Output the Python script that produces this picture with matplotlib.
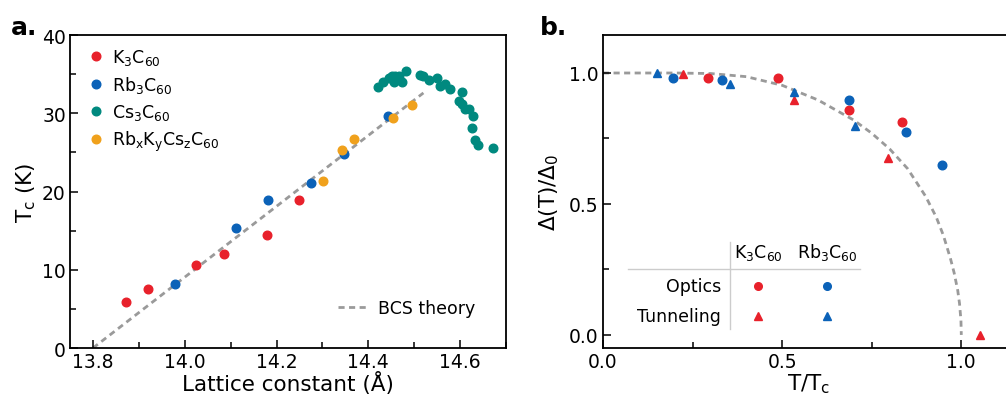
import matplotlib
matplotlib.use("Agg")
import matplotlib.pyplot as plt
from matplotlib.ticker import MultipleLocator

plt.rcParams['font.family'] = ['DejaVu Sans']
plt.rcParams['mathtext.default'] = 'regular'

RED = '#e8212b'
BLUE = '#0b62b8'
TEAL = '#00897f'
ORANGE = '#f0a11c'
GREY = '#9a9a9a'

# ---- panel a: Tc vs lattice constant
k_a = [13.873, 13.921, 14.024, 14.086, 14.180, 14.249]
k_tc = [5.9, 7.5, 10.6, 12.0, 14.5, 18.9]

rb_a = [13.979, 14.111, 14.182, 14.274, 14.348, 14.443]
rb_tc = [8.2, 15.4, 18.9, 21.1, 24.8, 29.6]

cs_a = [14.421, 14.433, 14.444, 14.451, 14.459, 14.466, 14.455, 14.473, 14.483,
        14.512, 14.520, 14.533, 14.550, 14.557, 14.568, 14.579, 14.604, 14.597,
        14.604, 14.611, 14.619, 14.628, 14.625, 14.633, 14.639, 14.672]
cs_tc = [33.4, 34.0, 34.5, 34.7, 34.8, 34.8, 34.0, 34.0, 35.4,
         34.9, 34.8, 34.2, 34.5, 33.5, 33.8, 33.1, 32.7, 31.6,
         31.2, 30.5, 30.6, 29.6, 28.1, 26.6, 25.9, 25.6]

mix_a = [14.302, 14.342, 14.369, 14.454, 14.496]
mix_tc = [21.3, 25.3, 26.7, 29.4, 31.0]

bcs_a = [13.80, 14.52]
bcs_tc = [0.0, 32.6]

# ---- panel b: gap vs reduced temperature
k_opt_t = [0.294, 0.489, 0.686, 0.835]
k_opt_gap = [0.98, 0.98, 0.86, 0.812]
rb_opt_t = [0.196, 0.331, 0.686, 0.846, 0.946]
rb_opt_gap = [0.98, 0.973, 0.898, 0.773, 0.647]
k_tun_t = [0.223, 0.532, 0.796, 1.053]
k_tun_gap = [0.998, 0.896, 0.675, 0.0]
rb_tun_t = [0.150, 0.355, 0.532, 0.704]
rb_tun_gap = [1.0, 0.958, 0.927, 0.796]

bcs_t = [0.0, 0.1, 0.2, 0.3, 0.4, 0.5, 0.6, 0.7, 0.75, 0.8, 0.85, 0.9, 0.93,
         0.95, 0.97, 0.98, 0.99, 0.995, 0.999, 1.0]
bcs_gap = [1.0, 1.0, 1.0, 0.998, 0.986, 0.953, 0.897, 0.820, 0.770, 0.710,
           0.635, 0.530, 0.450, 0.380, 0.290, 0.237, 0.170, 0.120, 0.055, 0.0]

fig = plt.figure(figsize=(10.06, 4.02), dpi=100)
ax1 = fig.add_axes([0.0696, 0.1318, 0.4334, 0.7786])
ax2 = fig.add_axes([0.5994, 0.1318, 0.4096, 0.7786])

ms = 6.2
fs_leg = 12.5
h1, = ax1.plot(k_a, k_tc, 'o', color=RED, ms=ms, label=r'K$_3$C$_{60}$')
h2, = ax1.plot(rb_a, rb_tc, 'o', color=BLUE, ms=ms, label=r'Rb$_3$C$_{60}$')
h3, = ax1.plot(cs_a, cs_tc, 'o', color=TEAL, ms=ms, label=r'Cs$_3$C$_{60}$')
h4, = ax1.plot(mix_a, mix_tc, 'o', color=ORANGE, ms=ms,
               label=r'Rb$_x$K$_y$Cs$_z$C$_{60}$')
hb, = ax1.plot(bcs_a, bcs_tc, '--', color=GREY, lw=2, dashes=(2.2, 1.6),
               zorder=1, label='BCS theory')

leg1 = ax1.legend(handles=[h1, h2, h3, h4], loc='upper left', frameon=False,
                  fontsize=fs_leg, handletextpad=0.1, borderaxespad=0.3,
                  labelspacing=0.4, handlelength=1.6)
ax1.add_artist(leg1)
ax1.legend(handles=[hb], loc='lower right', frameon=False, fontsize=fs_leg,
           handlelength=1.7, handletextpad=0.6, borderaxespad=1.4)

ax1.set_xlim(13.75, 14.70)
ax1.set_ylim(0, 40)
ax1.xaxis.set_major_locator(MultipleLocator(0.2))
ax1.xaxis.set_minor_locator(MultipleLocator(0.1))
ax1.yaxis.set_major_locator(MultipleLocator(10))
ax1.yaxis.set_minor_locator(MultipleLocator(5))
ax1.set_xlabel('Lattice constant (Å)', fontsize=15.5, labelpad=0)
ax1.set_ylabel(r'T$_c$ (K)', fontsize=15.5, labelpad=3)

ax2.plot(bcs_t, bcs_gap, '--', color=GREY, lw=2, dashes=(2.2, 1.6), zorder=1)
ax2.plot(k_opt_t, k_opt_gap, 'o', color=RED, ms=ms)
ax2.plot(rb_opt_t, rb_opt_gap, 'o', color=BLUE, ms=ms)
ax2.plot(k_tun_t, k_tun_gap, '^', color=RED, ms=ms)
ax2.plot(rb_tun_t, rb_tun_gap, '^', color=BLUE, ms=ms)

ax2.set_xlim(0, 1.15)
ax2.set_ylim(-0.05, 1.145)
ax2.xaxis.set_major_locator(MultipleLocator(0.5))
ax2.xaxis.set_minor_locator(MultipleLocator(0.25))
ax2.yaxis.set_major_locator(MultipleLocator(0.5))
ax2.yaxis.set_minor_locator(MultipleLocator(0.25))
ax2.set_xlabel(r'T/T$_c$', fontsize=15.5, labelpad=0)
ax2.set_ylabel(r'Δ(T)/Δ$_0$', fontsize=15.5, labelpad=6)

# table-style key in panel b
ta = ax2.transAxes
ax2.plot([0.308, 0.308], [0.061, 0.339], color='#cccccc', lw=1, transform=ta)
ax2.plot([0.061, 0.624], [0.252, 0.252], color='#cccccc', lw=1, transform=ta)
ax2.text(0.376, 0.307, r'K$_3$C$_{60}$', transform=ta, ha='center',
         va='center', fontsize=fs_leg)
ax2.text(0.544, 0.307, r'Rb$_3$C$_{60}$', transform=ta, ha='center',
         va='center', fontsize=fs_leg)
ax2.text(0.286, 0.198, 'Optics', transform=ta, ha='right', va='center',
         fontsize=fs_leg)
ax2.text(0.286, 0.102, 'Tunneling', transform=ta, ha='right', va='center',
         fontsize=fs_leg)
ax2.plot([0.376], [0.198], 'o', color=RED, ms=5.5, transform=ta)
ax2.plot([0.544], [0.198], 'o', color=BLUE, ms=5.5, transform=ta)
ax2.plot([0.376], [0.102], '^', color=RED, ms=5.5, transform=ta)
ax2.plot([0.544], [0.102], '^', color=BLUE, ms=5.5, transform=ta)

for ax in (ax1, ax2):
    for s in ax.spines.values():
        s.set_linewidth(1.3)
    ax.tick_params(which='both', direction='in', labelsize=13.5, width=1.1)
    ax.tick_params(which='major', length=6, pad=3)
    ax.tick_params(which='minor', length=4)

fig.text(0.011, 0.913, 'a.', fontsize=18, fontweight='bold')
fig.text(0.537, 0.913, 'b.', fontsize=18, fontweight='bold')

fig.savefig('out.png', dpi=100)
